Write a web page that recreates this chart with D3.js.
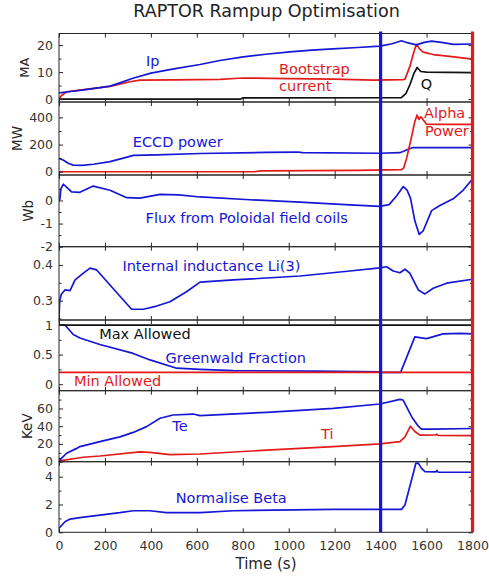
<!DOCTYPE html>
<html><head><meta charset="utf-8">
<script src="https://cdnjs.cloudflare.com/ajax/libs/d3/7.8.5/d3.min.js"></script>
<style>
body{margin:0;background:#fff}
svg{display:block}
text{font-family:"DejaVu Sans",sans-serif}
</style>
</head><body>
<svg id="chart" width="489" height="578"></svg>
<script>
// ---------- DATA (time s, value) ----------
const xTicks = [0,200,400,600,800,1000,1200,1400,1600,1800];
const ipData = [[0,2.3],[50,2.8],[100,3.3],[178,4.2],[222,4.8],[265,6.0],[322,7.7],[400,9.6],[500,11.2],[614,12.8],[700,14.3],[802,15.6],[900,16.6],[1005,17.5],[1100,18.1],[1194,18.6],[1300,19.1],[1397,19.6],[1450,20.5],[1491,21.6],[1520,20.8],[1556,20.1],[1590,21.0],[1622,21.5],[1672,20.9],[1716,20.3],[1800,20.4]];
const bootstrapData = [[0,0],[10,1.2],[33,2.7],[91,3.3],[178,4.2],[222,4.7],[309,6.4],[352,7.0],[500,7.1],[700,7.3],[800,7.8],[1000,7.6],[1200,7.4],[1368,7.0],[1498,7.2],[1506,7.4],[1527,12],[1545,17.5],[1556,20.3],[1570,18.5],[1585,17.4],[1629,16.5],[1701,15.8],[1800,14.8]];
const qData = [[0,0],[790,0],[800,0.4],[1490,0.5],[1510,2],[1527,5.2],[1545,9.5],[1559,11.7],[1575,10.2],[1600,10],[1800,9.8]];
const eccdData = [[0,98],[20,85],[40,62],[62,49],[100,47],[150,55],[222,74],[280,100],[324,120],[426,124],[614,134],[900,142],[1040,145],[1060,140],[1397,136],[1484,140],[1520,165],[1541,178],[1800,178]];
const alphaData = [[0,0],[850,0],[880,6],[1300,10],[1490,15],[1500,25],[1513,98],[1535,258],[1549,370],[1559,417],[1567,385],[1575,404],[1600,350],[1650,348],[1800,348]];
const fluxData = [[0,0],[4,0.07],[8,0.5],[19,0.70],[35,0.55],[55,0.37],[91,0.35],[149,0.62],[222,0.44],[295,0.12],[352,0.10],[440,0.26],[520,0.24],[614,0.15],[831,0.03],[1049,-0.07],[1266,-0.19],[1397,-0.26],[1437,-0.18],[1470,0.2],[1499,0.6],[1515,0.45],[1530,0.1],[1549,-0.88],[1568,-1.47],[1585,-1.32],[1622,-0.44],[1658,-0.22],[1716,0.07],[1760,0.45],[1800,0.93]];
const liData = [[0,0.255],[3,0.30],[10,0.318],[26,0.330],[48,0.328],[70,0.358],[106,0.377],[135,0.391],[164,0.386],[222,0.344],[280,0.302],[316,0.276],[367,0.276],[425,0.285],[483,0.297],[555,0.325],[614,0.352],[759,0.358],[1049,0.369],[1266,0.383],[1397,0.392],[1426,0.395],[1455,0.383],[1484,0.378],[1506,0.388],[1527,0.377],[1564,0.330],[1593,0.319],[1629,0.335],[1687,0.349],[1800,0.360]];
const gwData = [[0,1.0],[26,1.0],[62,0.84],[91,0.78],[178,0.67],[323,0.52],[396,0.41],[512,0.27],[614,0.25],[759,0.23],[1121,0.22],[1397,0.21],[1400,0.2],[1487,0.2],[1549,0.80],[1600,0.77],[1672,0.85],[1745,0.86],[1800,0.85]];
const maxAllowed = [[0,1],[1800,1]];
const minAllowed = [[0,0.2],[1800,0.2]];
const teData = [[0,1],[33,9.5],[77,15],[91,17],[178,22.6],[265,28],[323,33],[381,39.5],[440,49],[497,52.6],[584,53.7],[614,52],[904,55.6],[1194,60],[1397,65],[1484,70.3],[1498,69.5],[1535,50.7],[1564,40],[1578,36.8],[1629,36.8],[1800,37.4]];
const tiData = [[0,1],[106,5],[178,6.4],[352,11],[396,10.5],[483,8],[614,8.7],[904,13],[1194,17],[1397,20],[1484,22.6],[1506,28],[1530,40],[1549,34],[1571,30],[1640,30.3],[1645,31],[1650,29.5],[1800,29.3]];
const betaData = [[0,0.29],[26,0.76],[48,0.95],[91,1.05],[178,1.24],[265,1.41],[323,1.55],[396,1.55],[468,1.41],[614,1.41],[759,1.55],[1194,1.65],[1491,1.65],[1506,1.96],[1546,4.48],[1553,4.96],[1564,4.98],[1578,4.6],[1593,4.36],[1640,4.35],[1645,4.45],[1650,4.33],[1800,4.32]];
const markerTimes = [1400, 1800];

// ---------- STYLE / LAYOUT ----------
const BLUE = "#1616d6", RED = "#e41a1a", BLACK = "#111", AXC = "#262626";
const W = 489, H = 578;
const x = d3.scaleLinear([0,1800],[59,472.5]);

const panels = [
  {top:33.5,bottom:102,domain:[-1.1,24.3],ticks:[0,10,20],minor:[5,15],
   label:"MA",labelX:29,labelSize:13,
   series:[{d:qData,c:BLACK},{d:bootstrapData,c:RED},{d:ipData,c:BLUE}],
   notes:[{t:"Ip",at:[379,12.4],c:BLUE},{t:"Bootstrap",at:[958,9.1],c:RED},{t:"current",at:[958,2.9],c:RED},{t:"Q",at:[1575,3.6],c:BLACK}]},
  {top:102,bottom:175,domain:[-24,513],ticks:[0,200,400],minor:[100,300],
   label:"MW",labelX:22,labelSize:13.5,
   series:[{d:eccdData,c:BLUE},{d:alphaData,c:RED}],
   notes:[{t:"ECCD power",at:[321,180],c:BLUE},{t:"Alpha",at:[1589,393],c:RED},{t:"Power",at:[1593,263],c:RED}]},
  {top:175,bottom:246.7,domain:[-2,1.1],ticks:[-2,-1,0],minor:[-1.5,-0.5,0.5],
   label:"Wb",labelX:33,labelSize:13.5,
   series:[{d:fluxData,c:BLUE}],
   notes:[{t:"Flux from Poloidal field coils",at:[377,-0.96],c:BLUE}]},
  {top:246.7,bottom:320,domain:[0.246,0.451],ticks:[0.3,0.4],minor:[0.25,0.35],
   label:null,
   series:[{d:liData,c:BLUE}],
   notes:[{t:"Internal inductance Li(3)",at:[276,0.384],c:BLUE}]},
  {top:320,bottom:390.7,domain:[-0.11,1.085],ticks:[0,0.5,1],minor:[0.25,0.75],
   label:null,
   series:[{d:gwData,c:BLUE},{d:maxAllowed,c:BLACK},{d:minAllowed,c:RED}],
   notes:[{t:"Max Allowed",at:[175,0.759],c:BLACK},{t:"Greenwald Fraction",at:[464,0.363],c:BLUE},{t:"Min Allowed",at:[65,-0.025],c:RED}]},
  {top:390.7,bottom:461.7,domain:[0,80],ticks:[0,20,40,60],minor:[10,30,50,70],
   label:"KeV",labelX:32,labelSize:13.5,
   series:[{d:tiData,c:RED},{d:teData,c:BLUE}],
   notes:[{t:"Te",at:[493,34.9],c:BLUE},{t:"Ti",at:[1141,25.9],c:RED}]},
  {top:461.7,bottom:532.3,domain:[0,5.08],ticks:[0,2,4],minor:[1,3],
   label:null,
   series:[{d:betaData,c:BLUE}],
   notes:[{t:"Normalise Beta",at:[508,2.13],c:BLUE}]}
];

const svg = d3.select("#chart");
svg.append("rect").attr("width",W).attr("height",H).attr("fill","#fff");

const fmt = d => String(d);

panels.forEach((p,i) => {
  const y = d3.scaleLinear(p.domain,[p.bottom,p.top]);
  const g = svg.append("g");
  const cid = "clip"+i;
  svg.append("clipPath").attr("id",cid).append("rect")
    .attr("x",x(0)).attr("y",p.top).attr("width",x(1800)-x(0)).attr("height",p.bottom-p.top);
  const line = d3.line().x(d=>x(d[0])).y(d=>y(d[1]));
  const lg = g.append("g").attr("clip-path",`url(#${cid})`);
  p.series.forEach(s => {
    lg.append("path").attr("d",line(s.d)).attr("fill","none")
      .attr("stroke",s.c).attr("stroke-width",1.7).attr("stroke-linejoin","round");
  });

  // axes (inward ticks)
  g.append("g").attr("transform",`translate(${x(0)},0)`)
    .call(d3.axisLeft(y).tickValues(p.ticks).tickFormat(fmt).tickSizeInner(-4).tickSizeOuter(0).tickPadding(6));
  g.append("g").attr("transform",`translate(${x(0)},0)`)
    .call(d3.axisLeft(y).tickValues(p.minor).tickFormat("").tickSizeInner(-2.5).tickSizeOuter(0));
  g.append("g").attr("transform",`translate(${x(1800)},0)`)
    .call(d3.axisRight(y).tickValues(p.ticks).tickFormat("").tickSizeInner(-4).tickSizeOuter(0));
  g.append("g").attr("transform",`translate(${x(1800)},0)`)
    .call(d3.axisRight(y).tickValues(p.minor).tickFormat("").tickSizeInner(-2.5).tickSizeOuter(0));
  g.append("g").attr("transform",`translate(0,${p.top})`)
    .call(d3.axisTop(x).tickValues(xTicks).tickFormat("").tickSizeInner(-4).tickSizeOuter(0));
  g.append("g").attr("transform",`translate(0,${p.bottom})`)
    .call(d3.axisBottom(x).tickValues(xTicks).tickFormat(i===panels.length-1?fmt:"").tickSizeInner(-4).tickSizeOuter(0).tickPadding(8.8));
  g.selectAll(".domain").remove();
  g.selectAll(".tick line").attr("stroke",AXC).attr("stroke-width",1);
  g.selectAll(".tick text").attr("fill","#333").style("font-size","12.5px").style("font-family","DejaVu Sans");

  g.append("rect").attr("x",x(0)).attr("y",p.top).attr("width",x(1800)-x(0)).attr("height",p.bottom-p.top)
    .attr("fill","none").attr("stroke",AXC).attr("stroke-width",1);

  if (p.label) {
    const cy = (p.top+p.bottom)/2;
    g.append("text").attr("transform",`translate(${p.labelX},${cy}) rotate(-90)`)
      .attr("text-anchor","middle").attr("fill","#262626")
      .style("font-size",p.labelSize+"px").text(p.label);
  }
  p.notes.forEach(n => {
    g.append("text").attr("x",x(n.at[0])).attr("y",y(n.at[1]))
      .attr("fill",n.c).style("font-size","14.5px").text(n.t);
  });
});

// vertical marker lines
const yTop = panels[0].top - 2, yBot = panels[panels.length-1].bottom;
svg.selectAll(".marker").data(markerTimes).join("line")
  .attr("x1",d=>x(d)).attr("x2",d=>x(d)).attr("y1",yTop).attr("y2",yBot)
  .attr("stroke",(d,i)=> i===0?BLUE:RED).attr("stroke-width",3.2);

svg.append("text").attr("x",266.5).attr("y",17).attr("text-anchor","middle")
  .attr("fill","#222").style("font-size","17.5px").text("RAPTOR Rampup Optimisation");
svg.append("text").attr("x",266).attr("y",569).attr("text-anchor","middle")
  .attr("fill","#262626").style("font-size","15px").text("Time (s)");
</script>
</body></html>
